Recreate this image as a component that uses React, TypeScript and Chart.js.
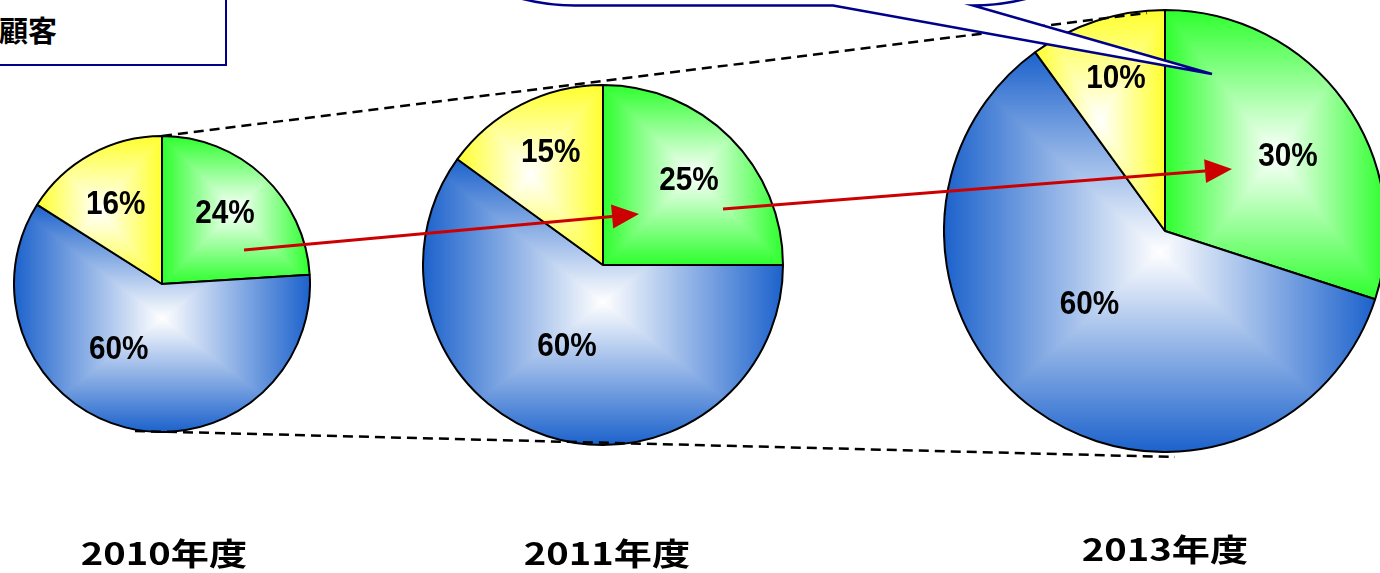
import React, { useEffect, useRef } from "react";
import { Chart, registerables } from "chart.js";

Chart.register(...registerables);

// ---------- data ----------
const categories = ["区分A", "区分B", "区分C"]; // green, blue, yellow
const years = ["2010年度", "2011年度", "2013年度"];
const share2010 = [24, 60, 16];
const share2011 = [25, 60, 15];
const share2013 = [30, 60, 10];
const seriesByYear = [share2010, share2011, share2013];
const boxTitle = "顧客";

// ---------- styling / layout ----------
const EDGE_COLORS: number[][] = [
  [45, 255, 45],
  [28, 98, 204],
  [255, 255, 45],
];
const PIES = [
  { cx: 162, cy: 284, r: 148 },
  { cx: 603, cy: 265, r: 180 },
  { cx: 1165, cy: 231, r: 221 },
];
const YEAR_POS = [
  { x: 164, y: 551 },
  { x: 607, y: 551 },
  { x: 1165, y: 547 },
];
const BORDER = 2;
const LABEL_RADIUS = [0.66, 0.49, 0.69];
const LABEL_SHIFT = [0, (12 * Math.PI) / 180, 0];
// small per-label nudges (layout only), per pie: [green, blue, yellow]
const LABEL_NUDGE: number[][][] = [
  [[-4, 0], [-11, 0], [3, 9]],
  [[2, -1], [8, 5], [4, -2]],
  [[5, 11], [5, 0], [-2, -8]],
];
const W = 1380;
const H = 573;

function sectorBox(cx: number, cy: number, R: number, a0: number, a1: number) {
  const xs = [cx];
  const ys = [cy];
  const add = (a: number) => {
    xs.push(cx + R * Math.cos(a));
    ys.push(cy + R * Math.sin(a));
  };
  add(a0);
  add(a1);
  for (let k = -4; k <= 8; k++) {
    const a = (k * Math.PI) / 2;
    if (a > a0 && a < a1) add(a);
  }
  return {
    x0: Math.min(...xs),
    x1: Math.max(...xs),
    y0: Math.min(...ys),
    y1: Math.max(...ys),
  };
}

function makeFill(chart: any, idx: number): any {
  const ca = chart.chartArea;
  const edge = EDGE_COLORS[idx % EDGE_COLORS.length];
  const fallback = `rgb(${edge[0]},${edge[1]},${edge[2]})`;
  if (!ca || idx === undefined) return fallback;
  const cache = chart.$fillCache || (chart.$fillCache = {});
  const key = `${idx}:${ca.left}:${ca.top}:${ca.right}:${ca.bottom}`;
  if (cache[key]) return cache[key];
  const data = chart.data.datasets[0].data as number[];
  const total = data.reduce((s, v) => s + v, 0);
  let before = 0;
  for (let i = 0; i < idx; i++) before += data[i];
  const a0 = -Math.PI / 2 + (before / total) * Math.PI * 2;
  const a1 = a0 + (data[idx] / total) * Math.PI * 2;
  const cx = (ca.left + ca.right) / 2;
  const cy = (ca.top + ca.bottom) / 2;
  const R = (Math.min(ca.right - ca.left, ca.bottom - ca.top) - BORDER) / 2;
  const b = sectorBox(cx, cy, R, a0, a1);
  const off = document.createElement("canvas");
  off.width = chart.width;
  off.height = chart.height;
  const octx = off.getContext("2d")!;
  const x0 = Math.max(0, Math.floor(b.x0) - 1);
  const y0 = Math.max(0, Math.floor(b.y0) - 1);
  const x1 = Math.min(off.width, Math.ceil(b.x1) + 1);
  const y1 = Math.min(off.height, Math.ceil(b.y1) + 1);
  const w = Math.max(1, x1 - x0);
  const h = Math.max(1, y1 - y0);
  const img = octx.createImageData(w, h);
  const mx = (b.x0 + b.x1) / 2;
  const my = (b.y0 + b.y1) / 2;
  const hw = Math.max(1, (b.x1 - b.x0) / 2);
  const hh = Math.max(1, (b.y1 - b.y0) / 2);
  for (let y = 0; y < h; y++) {
    const py = y0 + y + 0.5;
    const ty = Math.abs(py - my) / hh;
    for (let x = 0; x < w; x++) {
      const px = x0 + x + 0.5;
      const tx = Math.abs(px - mx) / hw;
      const f = Math.min(1, Math.max(tx, ty));
      const o = (y * w + x) * 4;
      img.data[o] = Math.round(255 + (edge[0] - 255) * f);
      img.data[o + 1] = Math.round(255 + (edge[1] - 255) * f);
      img.data[o + 2] = Math.round(255 + (edge[2] - 255) * f);
      img.data[o + 3] = 255;
    }
  }
  octx.putImageData(img, x0, y0);
  const pat = octx.createPattern(off, "no-repeat");
  cache[key] = pat;
  return pat;
}

function makeLabelPlugin(pieIndex: number) {
  return {
    id: "pctLabels",
    afterDatasetsDraw(chart: any) {
      const meta = chart.getDatasetMeta(0);
      const data = chart.data.datasets[0].data as number[];
      const ctx = chart.ctx as CanvasRenderingContext2D;
      meta.data.forEach((arc: any, i: number) => {
        const { x, y, startAngle, endAngle, outerRadius } = arc.getProps(
          ["x", "y", "startAngle", "endAngle", "outerRadius"],
          true
        );
        const mid = (startAngle + endAngle) / 2 + LABEL_SHIFT[i];
        const rr = outerRadius * LABEL_RADIUS[i];
        const nudge = LABEL_NUDGE[pieIndex][i];
        const lx = x + rr * Math.cos(mid) + nudge[0];
        const ly = y + rr * Math.sin(mid) + nudge[1];
        ctx.save();
        ctx.translate(lx, ly);
        ctx.scale(0.9, 1);
        ctx.font = 'bold 33px "Liberation Sans", Arial, sans-serif';
        ctx.textAlign = "center";
        ctx.textBaseline = "middle";
        ctx.fillStyle = "#000";
        ctx.fillText(`${data[i]}%`, 0, 1);
        ctx.restore();
      });
    },
  };
}

function drawArrow(ctx: CanvasRenderingContext2D, x0: number, y0: number, x1: number, y1: number) {
  const ang = Math.atan2(y1 - y0, x1 - x0);
  const headLen = 27;
  const headHalf = 12;
  const bx = x1 - headLen * Math.cos(ang);
  const by = y1 - headLen * Math.sin(ang);
  ctx.strokeStyle = "#cc0000";
  ctx.fillStyle = "#cc0000";
  ctx.lineWidth = 3;
  ctx.setLineDash([]);
  ctx.beginPath();
  ctx.moveTo(x0, y0);
  ctx.lineTo(bx, by);
  ctx.stroke();
  ctx.beginPath();
  ctx.moveTo(x1, y1);
  ctx.lineTo(bx + headHalf * Math.sin(ang), by - headHalf * Math.cos(ang));
  ctx.lineTo(bx - headHalf * Math.sin(ang), by + headHalf * Math.cos(ang));
  ctx.closePath();
  ctx.fill();
}

function drawOverlay(ctx: CanvasRenderingContext2D) {
  ctx.clearRect(0, 0, W, H);
  // dashed connectors
  ctx.save();
  ctx.strokeStyle = "#000";
  ctx.lineWidth = 2.5;
  ctx.setLineDash([10, 6]);
  ctx.beginPath();
  ctx.moveTo(162, 136);
  ctx.lineTo(1147, 13);
  ctx.moveTo(135, 431);
  ctx.lineTo(1175, 457);
  ctx.stroke();
  ctx.restore();

  // red arrows
  ctx.save();
  drawArrow(ctx, 244, 250, 639, 214);
  drawArrow(ctx, 723, 209, 1232, 169);
  ctx.restore();

  // callout bubble
  ctx.save();
  const Rc = 211;
  const yb = 5.5;
  ctx.beginPath();
  ctx.moveTo(560, -60);
  ctx.lineTo(500, -60);
  ctx.arc(575, yb - Rc, Rc, Math.PI / 2 + 0.45, Math.PI / 2, true);
  ctx.lineTo(833, yb);
  ctx.lineTo(1212, 74);
  ctx.lineTo(973, yb);
  ctx.arc(973, yb - Rc, Rc, Math.PI / 2, Math.PI / 2 - 0.45, true);
  ctx.lineTo(1100, -60);
  ctx.closePath();
  ctx.fillStyle = "#fff";
  ctx.fill();
  ctx.strokeStyle = "#00008b";
  ctx.lineWidth = 2.5;
  ctx.lineJoin = "miter";
  ctx.stroke();
  ctx.restore();
}

function PieCanvas({
  values,
  pie,
  index,
}: {
  values: number[];
  pie: { cx: number; cy: number; r: number };
  index: number;
}) {
  const ref = useRef<HTMLCanvasElement>(null);
  const S = 2 * pie.r + BORDER;
  useEffect(() => {
    if (!ref.current) return;
    const chart = new Chart(ref.current, {
      type: "pie",
      data: {
        labels: categories,
        datasets: [
          {
            data: values,
            backgroundColor: (c: any) => makeFill(c.chart, c.dataIndex),
            borderColor: "#000",
            borderWidth: BORDER,
            hoverBorderWidth: BORDER,
            hoverOffset: 0,
            offset: 0,
          } as any,
        ],
      },
      options: {
        responsive: false,
        animation: false,
        devicePixelRatio: 1,
        events: [],
        layout: { padding: 0 },
        plugins: {
          legend: { display: false },
          tooltip: { enabled: false },
        },
      },
      plugins: [makeLabelPlugin(index) as any],
    });
    return () => chart.destroy();
  }, [values, index]);
  return (
    <canvas
      ref={ref}
      width={S}
      height={S}
      style={{ position: "absolute", left: pie.cx - S / 2, top: pie.cy - S / 2, width: S, height: S }}
    />
  );
}

export default function App() {
  const overlayRef = useRef<HTMLCanvasElement>(null);
  useEffect(() => {
    const c = overlayRef.current;
    if (!c) return;
    const ctx = c.getContext("2d");
    if (ctx) drawOverlay(ctx);
  }, []);
  return (
    <div
      style={{
        position: "absolute",
        left: 0,
        top: 0,
        width: W,
        height: H,
        overflow: "hidden",
        background: "#fff",
      }}
    >
      <div
        style={{
          position: "absolute",
          left: -10,
          top: -10,
          width: 237,
          height: 76,
          boxSizing: "border-box",
          border: "2px solid #00008b",
          background: "#fff",
        }}
      />
      <div
        style={{
          position: "absolute",
          left: -1,
          top: 15,
          fontFamily: '"Noto Sans CJK JP", sans-serif',
          fontWeight: 700,
          fontSize: 29,
          lineHeight: "29px",
          whiteSpace: "nowrap",
          color: "#000",
        }}
      >
        {boxTitle}
      </div>
      {PIES.map((p, i) => (
        <PieCanvas key={i} values={seriesByYear[i]} pie={p} index={i} />
      ))}
      <canvas
        ref={overlayRef}
        width={W}
        height={H}
        style={{ position: "absolute", left: 0, top: 0, width: W, height: H, pointerEvents: "none" }}
      />
      {years.map((y, i) => (
        <div
          key={y}
          style={{
            position: "absolute",
            left: YEAR_POS[i].x,
            top: YEAR_POS[i].y,
            transform: "translate(-50%, -50%) scaleX(1.23)",
            fontFamily: '"Noto Sans CJK JP", sans-serif',
            fontWeight: 700,
            fontSize: 31,
            lineHeight: "31px",
            whiteSpace: "nowrap",
            color: "#000",
          }}
        >
          {y}
        </div>
      ))}
    </div>
  );
}
